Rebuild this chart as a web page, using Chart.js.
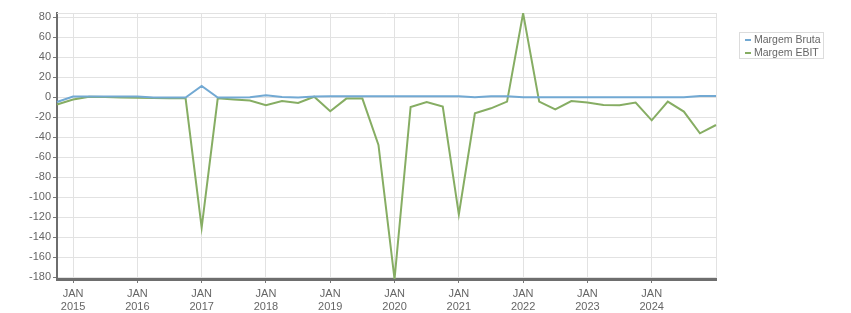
<!DOCTYPE html>
<html lang="pt">
<head>
    <meta charset="UTF-8">
    <title>Margens</title>
    <script src="https://cdn.jsdelivr.net/npm/chart.js"></script>
    <style>
        body { margin: 0; background: #fff; }
        #wrap { position: relative; width: 851px; height: 313px; }
        #legend {
            position: absolute; left: 739px; top: 32px; width: 83px; height: 25px;
            border: 1px solid #dcdcdc; font: 10.5px "Liberation Sans", Arial, sans-serif; color: #666;
            padding-top: 0px;
        }
        #legend div { height: 13px; line-height: 13px; padding-left: 14px; position: relative; }
        #legend span { position: absolute; left: 5px; top: 6px; width: 6px; height: 2px; }
    </style>
</head>
<body>
<div id="wrap">
    <canvas id="myChart" width="851" height="313"></canvas>
    <div id="legend"></div>
</div>
<script>
    // trimestres (fim de trimestre)
    const quarters = [
        '2014-09', '2014-12',
        '2015-03', '2015-06', '2015-09', '2015-12',
        '2016-03', '2016-06', '2016-09', '2016-12',
        '2017-03', '2017-06', '2017-09', '2017-12',
        '2018-03', '2018-06', '2018-09', '2018-12',
        '2019-03', '2019-06', '2019-09', '2019-12',
        '2020-03', '2020-06', '2020-09', '2020-12',
        '2021-03', '2021-06', '2021-09', '2021-12',
        '2022-03', '2022-06', '2022-09', '2022-12',
        '2023-03', '2023-06', '2023-09', '2023-12',
        '2024-03', '2024-06', '2024-09', '2024-12'
    ];

    const margemBruta = [
        -5, 0.5,
        0.5, 0.5, 0.5, 0.5,
        -0.5, -0.5, -0.5, 11,
        -0.5, -0.5, -0.3, 1.7,
        0, -0.5, 0.5, 0.7,
        0.7, 0.7, 0.7, 0.7,
        0.7, 0.7, 0.7, 0.7,
        -0.3, 0.7, 0.7, -0.3,
        -0.3, -0.3, -0.3, -0.3,
        -0.3, -0.3, -0.3, -0.3,
        -0.3, -0.3, 1, 1
    ];

    const margemEbit = [
        -7.5, -2.5,
        0.3, 0, -0.5, -0.7,
        -1, -1.3, -1.3, -130.6,
        -1.3, -2.5, -3.5, -8.3,
        -4, -6, 0.3, -14.3,
        -1.6, -1.6, -48, -182,
        -10, -5, -9.6, -117.5,
        -16.3, -11.3, -4.6, 83.7,
        -4.6, -12.3, -4, -5.6,
        -8, -8.3, -5.6, -23.3,
        -4.6, -14.6, -36.3, -28
    ];

    const seriesNames = ['Margem Bruta', 'Margem EBIT'];
    const seriesColors = ['#72a9d3', '#86ad63'];

    const isJan = (i) => quarters[i] && quarters[i].endsWith('-12');
    const FONT = { family: '"Liberation Sans", Arial, sans-serif', size: 11, lineHeight: 1.2 };

    // linha no topo da area do grafico
    const topLine = {
        id: 'topLine',
        beforeDatasetsDraw(chart) {
            const a = chart.chartArea, c = chart.ctx;
            c.save();
            c.strokeStyle = '#e2e2e2';
            c.lineWidth = 1;
            c.beginPath();
            c.moveTo(a.left, a.top + 0.5);
            c.lineTo(a.right, a.top + 0.5);
            c.stroke();
            c.restore();
        }
    };

    const ctx = document.getElementById('myChart').getContext('2d');
    const myChart = new Chart(ctx, {
        type: 'line',
        data: {
            labels: quarters,
            datasets: [
                { label: seriesNames[0], data: margemBruta, borderColor: seriesColors[0], backgroundColor: seriesColors[0] },
                { label: seriesNames[1], data: margemEbit, borderColor: seriesColors[1], backgroundColor: seriesColors[1] }
            ]
        },
        options: {
            responsive: false,
            animation: false,
            layout: { padding: { top: 13, right: 135, left: 0, bottom: 0 } },
            elements: {
                line: { borderWidth: 2, tension: 0 },
                point: { radius: 0 }
            },
            plugins: { legend: { display: false }, tooltip: { enabled: false } },
            scales: {
                x: {
                    offset: false,
                    afterFit: (s) => { s.height = 34; },
                    border: { color: '#6e6e6e', width: 3 },
                    grid: {
                        color: (c) => isJan(c.index) ? '#e2e2e2' : 'rgba(0,0,0,0)',
                        tickColor: (c) => isJan(c.index) && c.index !== quarters.length - 1 ? '#777' : 'rgba(0,0,0,0)',
                        tickLength: 4
                    },
                    ticks: {
                        autoSkip: false,
                        maxRotation: 0,
                        padding: 4,
                        color: '#666',
                        font: FONT,
                        callback: (v, i) => {
                            if (!isJan(i) || i === quarters.length - 1) return '';
                            return ['JAN', String(Number(quarters[i].slice(0, 4)) + 1)];
                        }
                    }
                },
                y: {
                    min: -182,
                    max: 84,
                    afterFit: (s) => { s.width = 57; },
                    border: { color: '#6e6e6e', width: 2 },
                    grid: { color: '#e2e2e2', tickColor: '#777', tickLength: 4 },
                    ticks: {
                        stepSize: 20,
                        includeBounds: false,
                        padding: 2,
                        color: '#666',
                        font: FONT
                    }
                }
            }
        },
        plugins: [topLine]
    });

    // legenda
    const legend = document.getElementById('legend');
    seriesNames.forEach((name, i) => {
        const row = document.createElement('div');
        row.innerHTML = '<span style="background:' + seriesColors[i] + '"></span>' + name;
        legend.appendChild(row);
    });
</script>
</body>
</html>
